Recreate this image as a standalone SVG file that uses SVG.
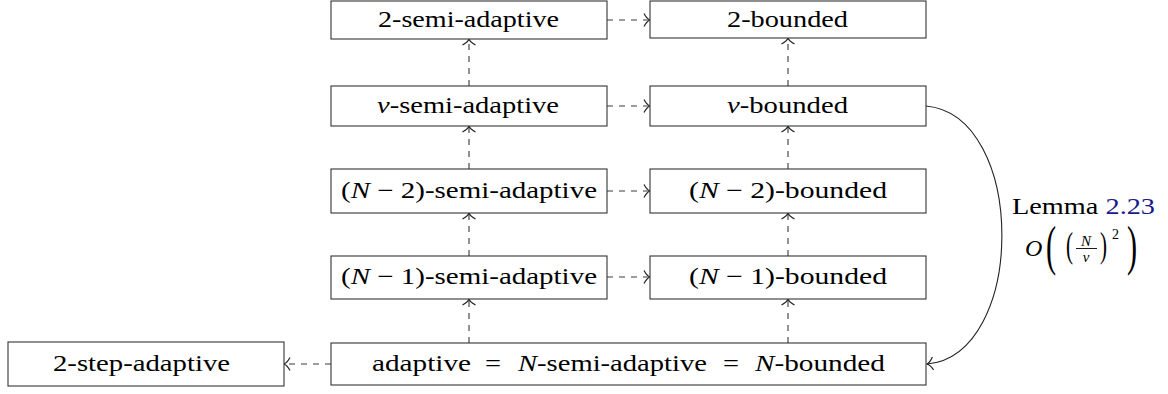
<svg xmlns="http://www.w3.org/2000/svg" width="1168" height="394" viewBox="0 0 1168 394">
<style>
.box{fill:#fff;stroke:#333;stroke-width:1.1}
.lbl{font-size:23px;fill:#000}
.it{font-style:italic}
.dash{fill:none;stroke:#3a3a3a;stroke-width:1.1;stroke-dasharray:6 6;marker-end:url(#to)}
.solid{fill:none;stroke:#222;stroke-width:1.1;marker-end:url(#to)}
.math{fill:#000}
</style>
<defs>
<marker id="to" markerUnits="userSpaceOnUse" viewBox="-8 -8 9 16" markerWidth="9" markerHeight="16" refX="0" refY="0" orient="auto" overflow="visible">
<path d="M-6,-6.5 C-4,-2.8 -1.8,-0.7 0,0 C-1.8,0.7 -4,2.8 -6,6.5" fill="none" stroke="#222" stroke-width="1.2"/>
</marker>
</defs>
<g font-family="Liberation Serif, Times New Roman, serif">
<g id="connectors">
<path class="dash" d="M607,20 H650"/>
<path class="dash" d="M607,106 H650"/>
<path class="dash" d="M607,191 H650"/>
<path class="dash" d="M607,277 H650"/>
<path class="dash" d="M469,86 V39"/>
<path class="dash" d="M469,169 V126"/>
<path class="dash" d="M469,256 V213"/>
<path class="dash" d="M469,343 V299"/>
<path class="dash" d="M788,86 V38"/>
<path class="dash" d="M788,169 V126"/>
<path class="dash" d="M788,256 V213"/>
<path class="dash" d="M788,343 V299"/>
<path class="dash" d="M331,364 H284"/>
<path class="solid" d="M926,106 C1027,115 1027,355 927,364"/>
<g id="lemma-label">
<text class="lbl" x="1012" y="214" textLength="143" lengthAdjust="spacingAndGlyphs">Lemma <tspan fill="#1a1a8c">2.23</tspan></text>
<text class="math it" x="1025" y="256" font-size="24">O</text>
<text class="math" transform="translate(1046,264) scale(0.55,1)" font-size="55">(</text>
<text class="math" transform="translate(1066,257) scale(0.6,1)" font-size="35">(</text>
<text class="math it" x="1086" y="246" font-size="15" text-anchor="middle">N</text>
<line x1="1076" y1="248.5" x2="1097" y2="248.5" stroke="#000" stroke-width="0.9"/>
<text class="math it" x="1086" y="262" font-size="15" text-anchor="middle">ν</text>
<text class="math" transform="translate(1100,257) scale(0.6,1)" font-size="35">)</text>
<text class="math" x="1112" y="239" font-size="14">2</text>
<text class="math" transform="translate(1127,264) scale(0.55,1)" font-size="55">)</text>
</g>
</g>
<g id="n-2semi"><rect class="box" x="331" y="1" width="276" height="38"/><text class="lbl" x="378" y="27" textLength="181" lengthAdjust="spacingAndGlyphs">2-semi-adaptive</text></g>
<g id="n-2bounded"><rect class="box" x="650" y="1" width="276" height="37"/><text class="lbl" x="727" y="27" textLength="121" lengthAdjust="spacingAndGlyphs">2-bounded</text></g>
<g id="n-nusemi"><rect class="box" x="331" y="86" width="276" height="40"/><text class="lbl" x="377" y="113" textLength="182" lengthAdjust="spacingAndGlyphs"><tspan class="it">ν</tspan>-semi-adaptive</text></g>
<g id="n-nubounded"><rect class="box" x="650" y="86" width="276" height="40"/><text class="lbl" x="727" y="113" textLength="121" lengthAdjust="spacingAndGlyphs"><tspan class="it">ν</tspan>-bounded</text></g>
<g id="n-N2semi"><rect class="box" x="331" y="169" width="276" height="44"/><text class="lbl" x="341" y="198" textLength="256" lengthAdjust="spacingAndGlyphs">(<tspan class="it">N</tspan> − 2)-semi-adaptive</text></g>
<g id="n-N2bounded"><rect class="box" x="650" y="169" width="276" height="44"/><text class="lbl" x="689" y="198" textLength="198" lengthAdjust="spacingAndGlyphs">(<tspan class="it">N</tspan> − 2)-bounded</text></g>
<g id="n-N1semi"><rect class="box" x="331" y="256" width="276" height="43"/><text class="lbl" x="341" y="284" textLength="256" lengthAdjust="spacingAndGlyphs">(<tspan class="it">N</tspan> − 1)-semi-adaptive</text></g>
<g id="n-N1bounded"><rect class="box" x="650" y="256" width="276" height="43"/><text class="lbl" x="689" y="284" textLength="198" lengthAdjust="spacingAndGlyphs">(<tspan class="it">N</tspan> − 1)-bounded</text></g>
<g id="n-adaptive"><rect class="box" x="331" y="343" width="595" height="42"/>
<text class="lbl" x="372" y="371" textLength="99" lengthAdjust="spacingAndGlyphs">adaptive</text>
<text class="lbl" x="485" y="371" textLength="16" lengthAdjust="spacingAndGlyphs">=</text>
<text class="lbl" x="518" y="371" textLength="189" lengthAdjust="spacingAndGlyphs"><tspan class="it">N</tspan>-semi-adaptive</text>
<text class="lbl" x="723" y="371" textLength="16" lengthAdjust="spacingAndGlyphs">=</text>
<text class="lbl" x="755" y="371" textLength="130" lengthAdjust="spacingAndGlyphs"><tspan class="it">N</tspan>-bounded</text>
</g>
<g id="n-2step"><rect class="box" x="8" y="342" width="276" height="44"/><text class="lbl" x="53" y="371" textLength="177" lengthAdjust="spacingAndGlyphs">2-step-adaptive</text></g>
</g>
</svg>
